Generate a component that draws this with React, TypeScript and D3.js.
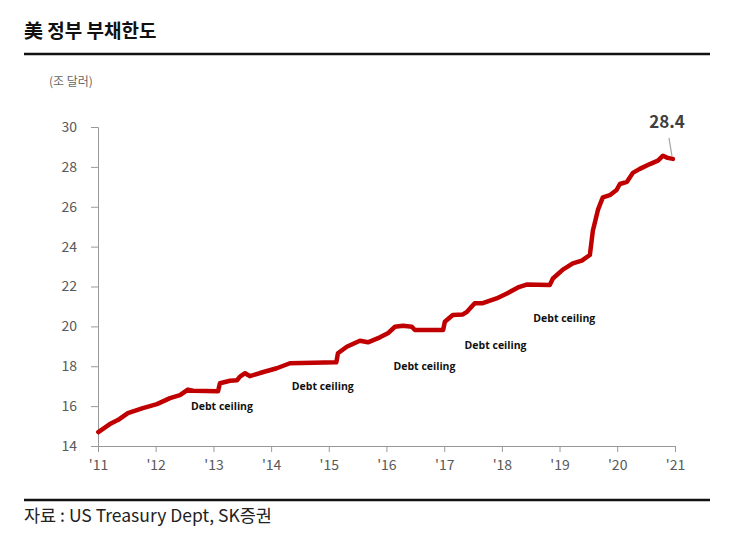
import React, { useEffect, useRef } from 'react';
import * as d3 from 'd3';

// debt observations (trillion USD)
const dates = [
  '2011-01-03', '2011-03-17', '2011-05-07', '2011-07-09', '2011-10-12',
  '2012-01-09', '2012-04-01', '2012-06-03', '2012-07-23', '2012-08-25',
  '2013-01-30', '2013-02-11', '2013-04-16', '2013-05-30', '2013-06-18',
  '2013-07-20', '2013-08-19', '2013-10-22', '2014-02-06', '2014-04-30',
  '2015-02-18', '2015-02-28', '2015-04-25', '2015-07-17', '2015-09-06',
  '2015-11-21', '2016-01-10', '2016-02-24', '2016-04-15', '2016-06-10',
  '2016-06-29', '2016-12-25', '2017-01-05', '2017-02-24', '2017-04-29',
  '2017-05-25', '2017-07-13', '2017-09-02', '2017-11-28', '2018-02-02',
  '2018-04-13', '2018-06-07', '2018-10-31', '2018-11-20', '2019-01-22',
  '2019-03-26', '2019-05-22', '2019-07-12', '2019-07-31', '2019-09-01',
  '2019-10-02', '2019-11-15', '2019-12-28', '2020-01-18', '2020-03-03',
  '2020-04-09', '2020-05-23', '2020-07-26', '2020-09-15', '2020-10-17',
  '2020-11-15', '2020-12-19',
];
const debt = [
  14.7, 15.1, 15.3, 15.65, 15.9,
  16.1, 16.4, 16.55, 16.83, 16.77,
  16.75, 17.15, 17.27, 17.3, 17.48,
  17.65, 17.5, 17.66, 17.9, 18.15,
  18.2, 18.65, 18.98, 19.28, 19.2,
  19.45, 19.65, 19.98, 20.03, 19.98,
  19.82, 19.82, 20.23, 20.57, 20.6,
  20.73, 21.16, 21.16, 21.4, 21.65,
  21.95, 22.1, 22.07, 22.4, 22.85,
  23.16, 23.3, 23.58, 24.8, 25.84,
  26.47, 26.58, 26.84, 27.14, 27.25,
  27.7, 27.9, 28.14, 28.31, 28.56,
  28.45, 28.4,
];

const yTicks = [14, 16, 18, 20, 22, 24, 26, 28, 30];
const xTickYears = [2011, 2012, 2013, 2014, 2015, 2016, 2017, 2018, 2019, 2020, 2021];

// annotation positions in data space
const ceilingDates = ['2013-02-24', '2014-11-24', '2016-08-29', '2017-11-22', '2019-01-31'];
const ceilingValues = [15.97, 16.97, 17.96, 19.03, 20.35];
const lastLabel = '28.4';

const parse = d3.timeParse('%Y-%m-%d');

const App: React.FC = () => {
  const svgRef = useRef<SVGSVGElement>(null);

  useEffect(() => {
    if (!svgRef.current) return;
    const svg = d3.select(svgRef.current);
    svg.selectAll('*').remove();

    const W = 743;
    const H = 549;
    const krFont = '"Noto Sans CJK KR", "Noto Sans", sans-serif';

    const x = d3.scaleTime()
      .domain([new Date(2011, 0, 1), new Date(2021, 0, 1)])
      .range([98, 675]);
    const y = d3.scaleLinear().domain([14, 30]).range([446, 127]);

    svg.append('rect').attr('width', W).attr('height', H).attr('fill', '#fff');

    // header
    svg.append('text')
      .attr('x', 24).attr('y', 38)
      .attr('font-family', krFont)
      .attr('font-weight', 'bold')
      .attr('font-size', 19)
      .attr('fill', '#111')
      .text('美 정부 부채한도');

    svg.append('line')
      .attr('x1', 24).attr('x2', 710)
      .attr('y1', 54).attr('y2', 54)
      .attr('stroke', '#111').attr('stroke-width', 2.5);

    svg.append('text')
      .attr('x', 49).attr('y', 86)
      .attr('font-family', krFont)
      .attr('font-size', 12)
      .attr('fill', '#666')
      .text('(조 달러)');

    // y axis
    svg.append('g')
      .attr('transform', 'translate(98,0)')
      .call(d3.axisLeft(y).tickValues(yTicks).tickSize(7).tickPadding(14))
      .call((g: any) => g.select('.domain').attr('stroke', '#999'))
      .call((g: any) => g.selectAll('line').attr('stroke', '#999'))
      .call((g: any) => g.selectAll('text')
        .attr('fill', '#595959')
        .attr('font-size', 14)
        .attr('font-family', krFont));

    // x axis
    svg.append('g')
      .attr('transform', 'translate(0,446)')
      .call(d3.axisBottom(x)
        .tickValues(xTickYears.map(yr => new Date(yr, 0, 1)))
        .tickSize(6)
        .tickSizeOuter(0)
        .tickPadding(8)
        .tickFormat((d: any) => "'" + String(d.getFullYear()).slice(2)))
      .call((g: any) => g.select('.domain').attr('stroke', '#999'))
      .call((g: any) => g.selectAll('line').attr('stroke', '#999'))
      .call((g: any) => g.selectAll('text')
        .attr('fill', '#595959')
        .attr('font-size', 14)
        .attr('font-family', krFont));

    // debt line
    const points = dates.map((d, i) => ({ date: parse(d) as Date, value: debt[i] }));
    const line = d3.line<{ date: Date; value: number }>()
      .x(d => x(d.date))
      .y(d => y(d.value));

    svg.append('path')
      .datum(points)
      .attr('fill', 'none')
      .attr('stroke', '#c00000')
      .attr('stroke-width', 4.5)
      .attr('stroke-linejoin', 'round')
      .attr('stroke-linecap', 'round')
      .attr('d', line);

    // debt ceiling notes
    ceilingDates.forEach((d, i) => {
      svg.append('text')
        .attr('x', x(parse(d) as Date))
        .attr('y', y(ceilingValues[i]))
        .attr('text-anchor', 'middle')
        .attr('dominant-baseline', 'middle')
        .attr('font-family', '"Open Sans", sans-serif')
        .attr('font-weight', 'bold')
        .attr('font-size', 10.5)
        .attr('fill', '#111')
        .text('Debt ceiling');
    });

    // last value callout
    const last = points[points.length - 1];
    const lx = x(last.date);
    const ly = y(last.value);
    svg.append('line')
      .attr('x1', lx - 4).attr('y1', ly - 21)
      .attr('x2', lx - 1).attr('y2', ly - 3)
      .attr('stroke', '#a6a6a6').attr('stroke-width', 1.2);
    svg.append('text')
      .attr('x', lx - 6).attr('y', ly - 31)
      .attr('text-anchor', 'middle')
      .attr('font-family', krFont)
      .attr('font-weight', 'bold')
      .attr('font-size', 17)
      .attr('fill', '#404040')
      .text(lastLabel);

    // footer
    svg.append('line')
      .attr('x1', 24).attr('x2', 710)
      .attr('y1', 500).attr('y2', 500)
      .attr('stroke', '#111').attr('stroke-width', 2.5);

    svg.append('text')
      .attr('x', 24).attr('y', 522)
      .attr('font-family', krFont)
      .attr('font-size', 17.5)
      .attr('fill', '#222')
      .text('자료 : US Treasury Dept, SK증권');
  }, []);

  return (
    <svg
      ref={svgRef}
      width={743}
      height={549}
      style={{ position: 'absolute', left: 0, top: 0, display: 'block' }}
    />
  );
};

export default App;
